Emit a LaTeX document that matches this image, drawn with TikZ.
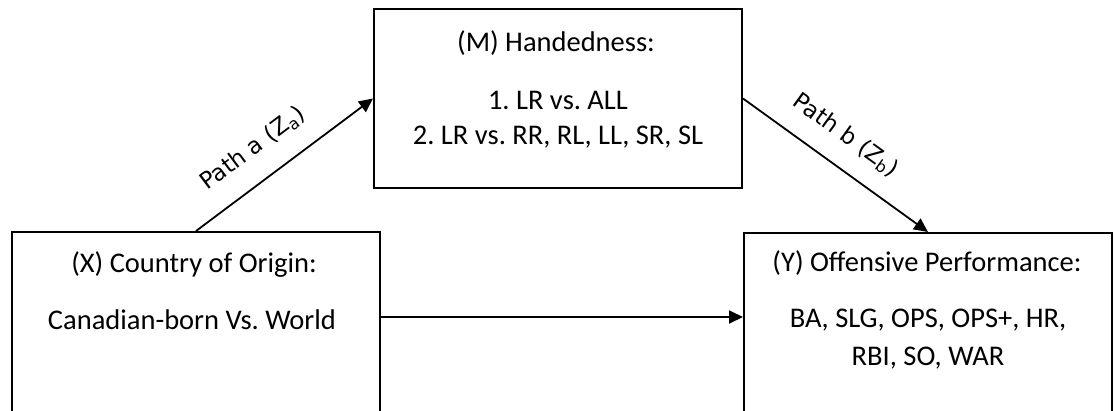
\documentclass[tikz,border=0pt]{standalone}
\usepackage{fontspec}
\setmainfont{Carlito}
\newfontfamily\labfont{DejaVu Sans}
\usetikzlibrary{arrows.meta}
\frenchspacing
\begin{document}
\begin{tikzpicture}[x=1pt,y=-1pt,
  box/.style={draw, line width=2pt, inner sep=0pt},
  txt/.style={font=\fontsize{28.5}{37}\selectfont, align=center, inner sep=0pt},
  arr/.style={line width=1.8pt, -{Triangle[length=14pt,width=13pt]}},
  lab/.style={font=\labfont\fontsize{23}{26}\selectfont, sloped, inner sep=0pt, anchor=center}]
\useasboundingbox (0,0) rectangle (1115,410);
\clip (0,0) rectangle (1115,410);
% boxes
\node[box, minimum width=368pt, minimum height=179pt] (M) at (558,98.5) {};
\node[box, minimum width=368pt, minimum height=188pt] (X) at (196,326) {};
\node[box, minimum width=368pt, minimum height=187pt] (Y) at (928,326.5) {};
% texts
\node[txt] (mt) at (556,43) {(M) Handedness:};
\node[txt] (m1) at (558,100) {1. LR vs. ALL};
\node[txt] (m2) at (558,137) {2. LR vs. RR, RL, LL, SR, SL};
\node[txt] (xt) at (194,265) {(X) Country of Origin:};
\node[txt] (x1) at (192,320) {Canadian-born Vs. World};
\node[txt] (yt) at (927,263) {(Y) Offensive Performance:};
\node[txt] (y1) at (928,320) {BA, SLG, OPS, OPS+, HR,};
\node[txt] (y2) at (928,358) {RBI, SO, WAR};
% connectors
\coordinate (h) at (0,317);
\draw[arr] (X.north) -- (M.west) node[lab, pos=0.43, yshift=32pt] {Path a (Z\textsubscript{a})};
\draw[arr] (M.east) -- (Y.north) node[lab, pos=0.46, yshift=30pt] {Path b (Z\textsubscript{b})};
\draw[arr] (X.east |- h) -- (Y.west |- h);
\end{tikzpicture}
\end{document}
